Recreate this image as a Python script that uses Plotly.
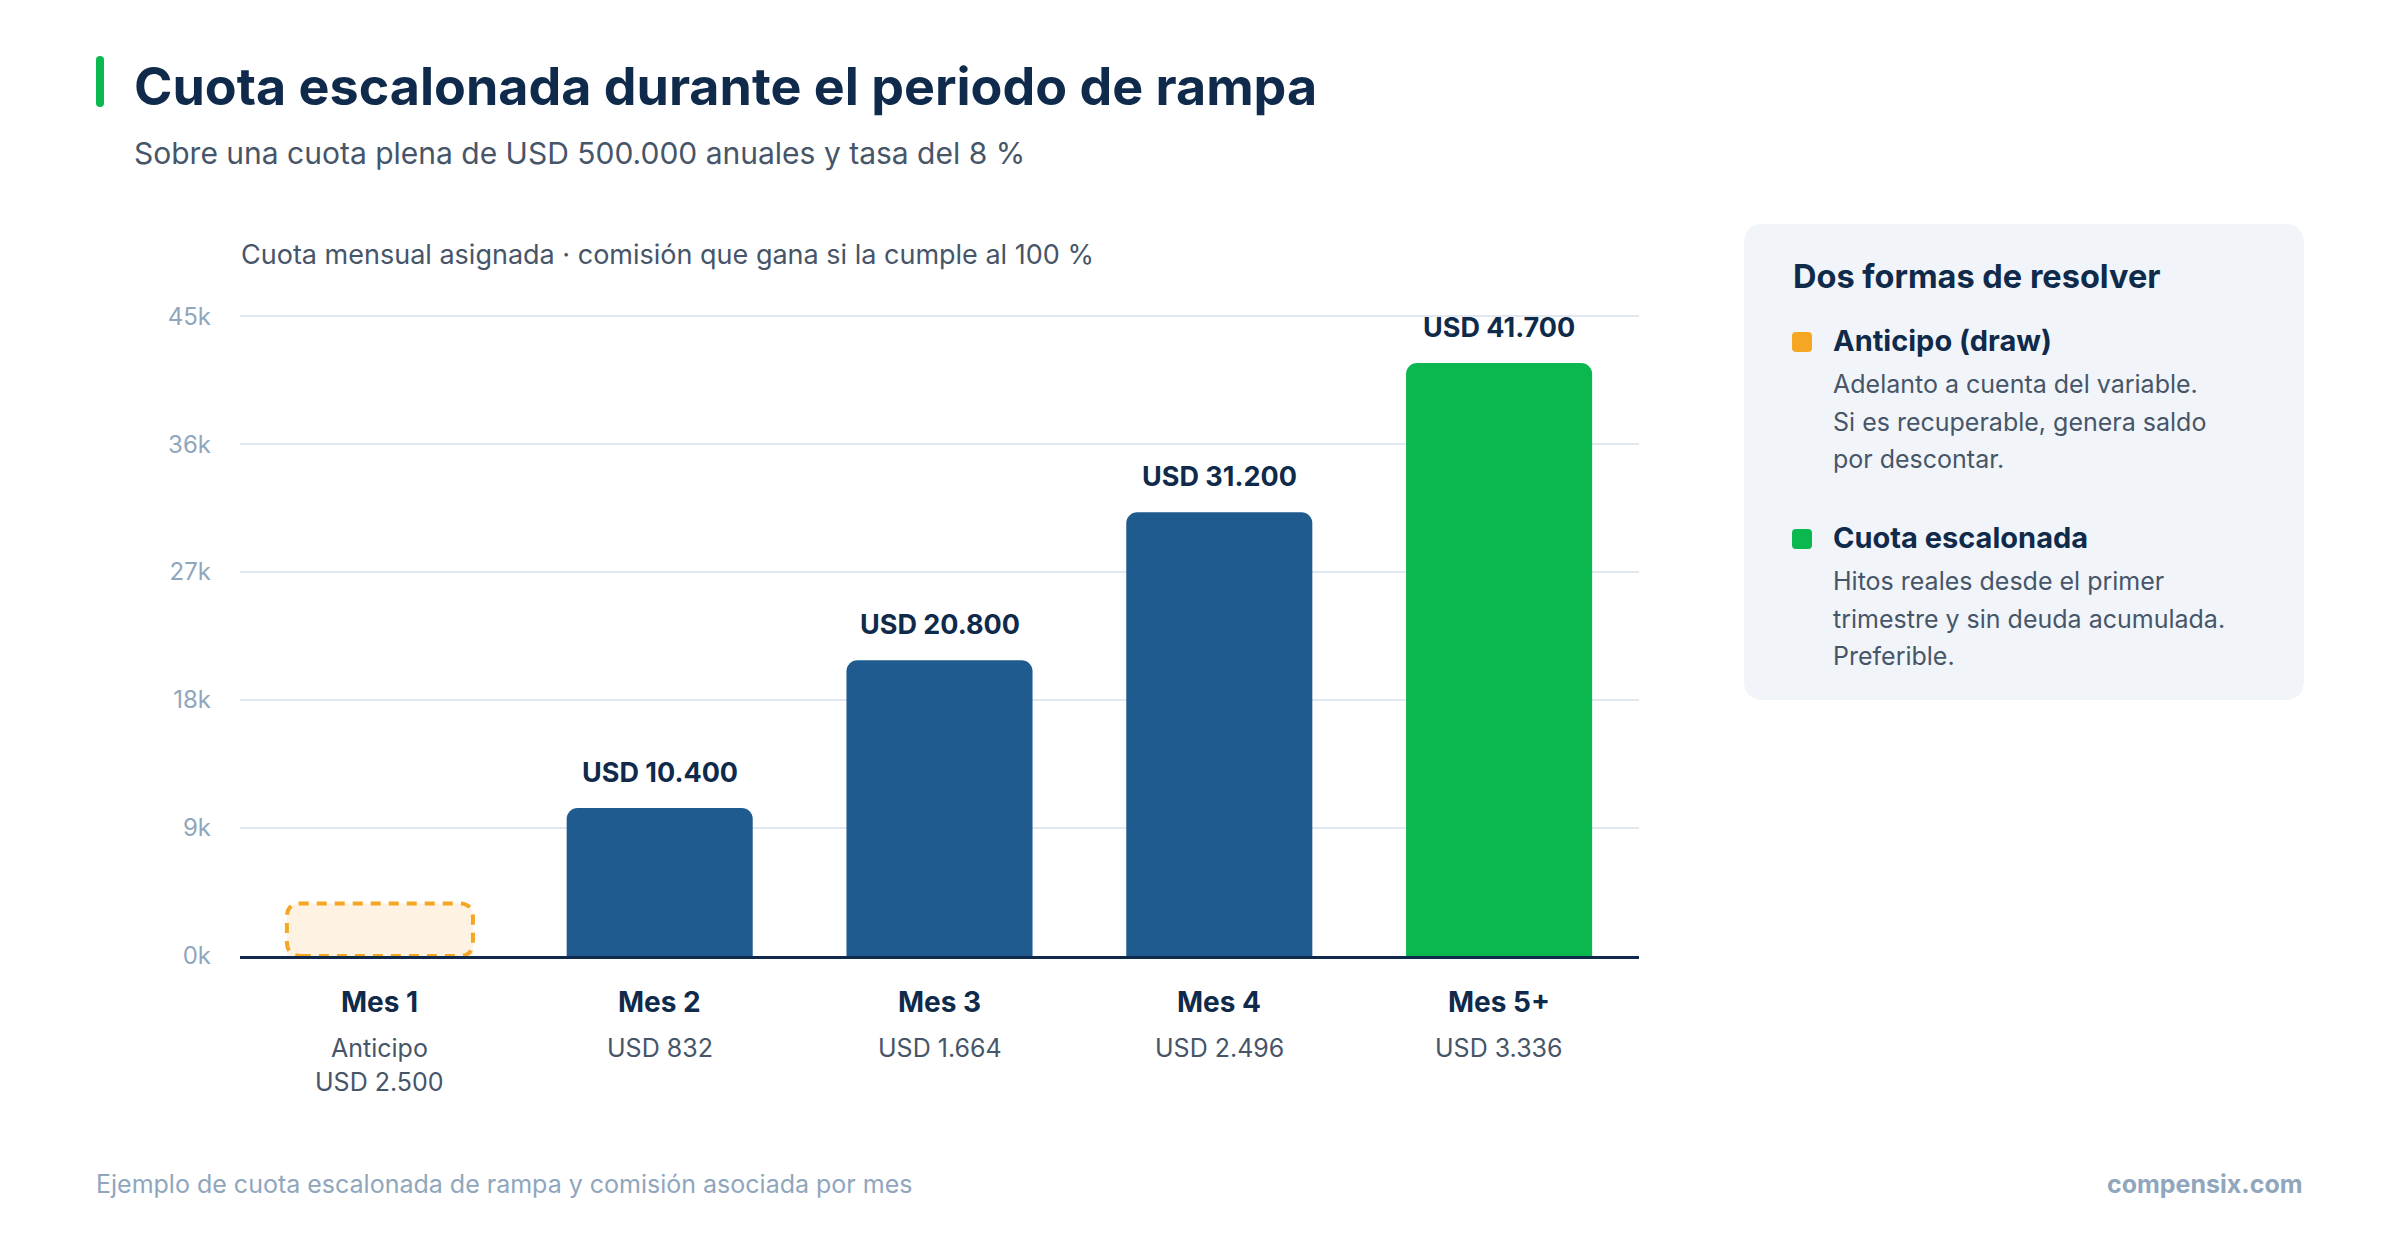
import plotly.graph_objects as go

# ---------------- data ----------------
months = ["Mes 1", "Mes 2", "Mes 3", "Mes 4", "Mes 5+"]
quota_values = [None, 10400, 20800, 31200, 41700]
quota_labels = ["", "USD 10.400", "USD 20.800", "USD 31.200", "USD 41.700"]
commission_lines = [["Anticipo", "USD 2.500"], ["USD 832"], ["USD 1.664"], ["USD 2.496"], ["USD 3.336"]]
draw_box_value = 3700  # height of the placeholder box for the draw month
y_tickvals = [0, 9000, 18000, 27000, 36000, 45000]
y_ticktext = ["0k", "9k", "18k", "27k", "36k", "45k"]

title = "Cuota escalonada durante el periodo de rampa"
subtitle = "Sobre una cuota plena de USD 500.000 anuales y tasa del 8 %"
caption = "Cuota mensual asignada · comisión que gana si la cumple al 100 %"
panel_title = "Dos formas de resolver"
panel_items = [
    ("Anticipo (draw)", ["Adelanto a cuenta del variable.", "Si es recuperable, genera saldo", "por descontar."]),
    ("Cuota escalonada", ["Hitos reales desde el primer", "trimestre y sin deuda acumulada.", "Preferible."]),
]
footer_left = "Ejemplo de cuota escalonada de rampa y comisión asociada por mes"
footer_right = "compensix.com"

# ---------------- style ----------------
OFF = 8  # page body margin
W, H = 2400 - OFF, 1240 - OFF
Y_MAX = 45150
ML = 240 - OFF
PW = 1399
MR = W - ML - PW
Y45 = 316 - OFF   # pixel of the 45k line
Y0 = 956 - OFF    # pixel of the 0 line
PH = round((Y0 - Y45) * Y_MAX / 45000)
MT = Y0 - PH
MB = H - Y0
FONT = "Inter"
NAVY = "#0f2a4a"
SLATE = "#475569"
MUTED = "#8fa6bd"
BLUE = "#1f5b8e"
GREEN = "#0bb84f"
ORANGE = "#f5a623"
CREAM = "#fef3e2"
GRID = "#e2e8f0"
PANEL = "#f1f5f9"
BAR_W = 0.665


def px(x):
    return (x - OFF - ML) / PW


def py(y):
    return (Y0 - (y - OFF)) / PH


def rounded_rect(xa, xb, ya, yb, rr):
    X0, X1 = px(xa), px(xb)
    Y0_, Y1_ = py(yb), py(ya)
    rxp, ryp = rr / PW, rr / PH
    return (f"M{X0+rxp},{Y0_} L{X1-rxp},{Y0_} Q{X1},{Y0_} {X1},{Y0_+ryp} L{X1},{Y1_-ryp} "
            f"Q{X1},{Y1_} {X1-rxp},{Y1_} L{X0+rxp},{Y1_} Q{X0},{Y1_} {X0},{Y1_-ryp} "
            f"L{X0},{Y0_+ryp} Q{X0},{Y0_} {X0+rxp},{Y0_} Z")


bar_colors = [CREAM, BLUE, BLUE, BLUE, GREEN]
xs = list(range(len(months)))

fig = go.Figure()
fig.add_trace(go.Bar(
    x=xs,
    y=[draw_box_value if v is None else v for v in quota_values],
    width=BAR_W,
    marker=dict(color=bar_colors, line=dict(width=0)),
    hoverinfo="skip",
    showlegend=False,
))

shapes = []
annotations = []

# dashed outline for the draw box (rounded path in data coords)
rx = 14 / (PW / len(months))
ry = 14 / PH * Y_MAX
x0, x1 = xs[0] - BAR_W / 2, xs[0] + BAR_W / 2
y0, y1 = 0, draw_box_value
path = (f"M{x0+rx},{y0} L{x1-rx},{y0} Q{x1},{y0} {x1},{y0+ry} L{x1},{y1-ry} "
        f"Q{x1},{y1} {x1-rx},{y1} L{x0+rx},{y1} Q{x0},{y1} {x0},{y1-ry} "
        f"L{x0},{y0+ry} Q{x0},{y0} {x0+rx},{y0} Z")
shapes.append(dict(type="path", xref="x", yref="y", path=path,
                   line=dict(color=ORANGE, width=4, dash="10px,8px"), fillcolor="rgba(0,0,0,0)",
                   layer="above"))

# value labels
for i, (v, lab) in enumerate(zip(quota_values, quota_labels)):
    if v is None:
        continue
    annotations.append(dict(x=i, y=v, xref="x", yref="y", text=f"<b>{lab}</b>", showarrow=False,
                            yanchor="middle", yshift=36,
                            font=dict(family=FONT, size=27, color=NAVY)))

# x category labels
for i, (m, lines) in enumerate(zip(months, commission_lines)):
    annotations.append(dict(x=i, y=py(1002), xref="x", yref="paper", text=f"<b>{m}</b>",
                            showarrow=False, yanchor="middle",
                            font=dict(family=FONT, size=28, color=NAVY)))
    for j, ln in enumerate(lines):
        annotations.append(dict(x=i, y=py(1048 + 34 * j), xref="x", yref="paper", text=ln,
                                showarrow=False, yanchor="middle",
                                font=dict(family=FONT, size=25, color=SLATE)))

# title block (green pill accent)
shapes.append(dict(type="path", xref="paper", yref="paper", path=rounded_rect(96, 104, 56, 107, 4),
                   fillcolor=GREEN, line=dict(width=0), layer="above"))
annotations.append(dict(x=px(132), y=py(87), xref="paper", yref="paper", text=f"<b>{title}</b>",
                        showarrow=False, xanchor="left", yanchor="middle",
                        font=dict(family=FONT, size=52, color=NAVY)))
annotations.append(dict(x=px(132), y=py(153), xref="paper", yref="paper", text=subtitle,
                        showarrow=False, xanchor="left", yanchor="middle",
                        font=dict(family=FONT, size=30, color=SLATE)))
annotations.append(dict(x=px(239), y=py(255), xref="paper", yref="paper", text=caption,
                        showarrow=False, xanchor="left", yanchor="middle",
                        font=dict(family=FONT, size=27, color=SLATE)))

# right panel
shapes.append(dict(type="path", xref="paper", yref="paper", path=rounded_rect(1744, 2304, 224, 700, 20),
                   fillcolor=PANEL, line=dict(width=0), layer="below"))
annotations.append(dict(x=px(1791), y=py(276), xref="paper", yref="paper", text=f"<b>{panel_title}</b>",
                        showarrow=False, xanchor="left", yanchor="middle",
                        font=dict(family=FONT, size=32.5, color=NAVY)))
item_tops = [340, 537]
item_colors = [ORANGE, GREEN]
for (head, lines), yt, col in zip(panel_items, item_tops, item_colors):
    shapes.append(dict(type="path", xref="paper", yref="paper",
                       path=rounded_rect(1792, 1812, yt - 8, yt + 12, 4),
                       fillcolor=col, line=dict(width=0), layer="above"))
    annotations.append(dict(x=px(1831), y=py(yt), xref="paper", yref="paper", text=f"<b>{head}</b>",
                            showarrow=False, xanchor="left", yanchor="middle",
                            font=dict(family=FONT, size=29, color=NAVY)))
    for j, ln in enumerate(lines):
        annotations.append(dict(x=px(1831), y=py(yt + 44 + 37.7 * j), xref="paper", yref="paper", text=ln,
                                showarrow=False, xanchor="left", yanchor="middle",
                                font=dict(family=FONT, size=25, color=SLATE)))

# footer
annotations.append(dict(x=px(94), y=py(1184), xref="paper", yref="paper", text=footer_left,
                        showarrow=False, xanchor="left", yanchor="middle",
                        font=dict(family=FONT, size=25, color=MUTED)))
annotations.append(dict(x=px(2305), y=py(1184), xref="paper", yref="paper", text=f"<b>{footer_right}</b>",
                        showarrow=False, xanchor="right", yanchor="middle",
                        font=dict(family=FONT, size=25, color=MUTED)))

fig.update_layout(
    width=W, height=H,
    margin=dict(l=ML, r=MR, t=MT, b=MB, pad=0),
    paper_bgcolor="white", plot_bgcolor="white",
    barcornerradius=11,
    shapes=shapes, annotations=annotations,
    font=dict(family=FONT),
    xaxis=dict(range=[-0.5, len(months) - 0.5], showticklabels=False, showgrid=False, zeroline=False,
               showline=True, linecolor=NAVY, linewidth=3, fixedrange=True),
    yaxis=dict(range=[0, Y_MAX], tickvals=y_tickvals, ticktext=y_ticktext, showgrid=True, gridcolor=GRID,
               gridwidth=2, zeroline=False, showline=False, ticks="", ticklabelstandoff=28,
               tickfont=dict(family=FONT, size=24, color=MUTED), fixedrange=True),
)

fig.write_html("out.html")
